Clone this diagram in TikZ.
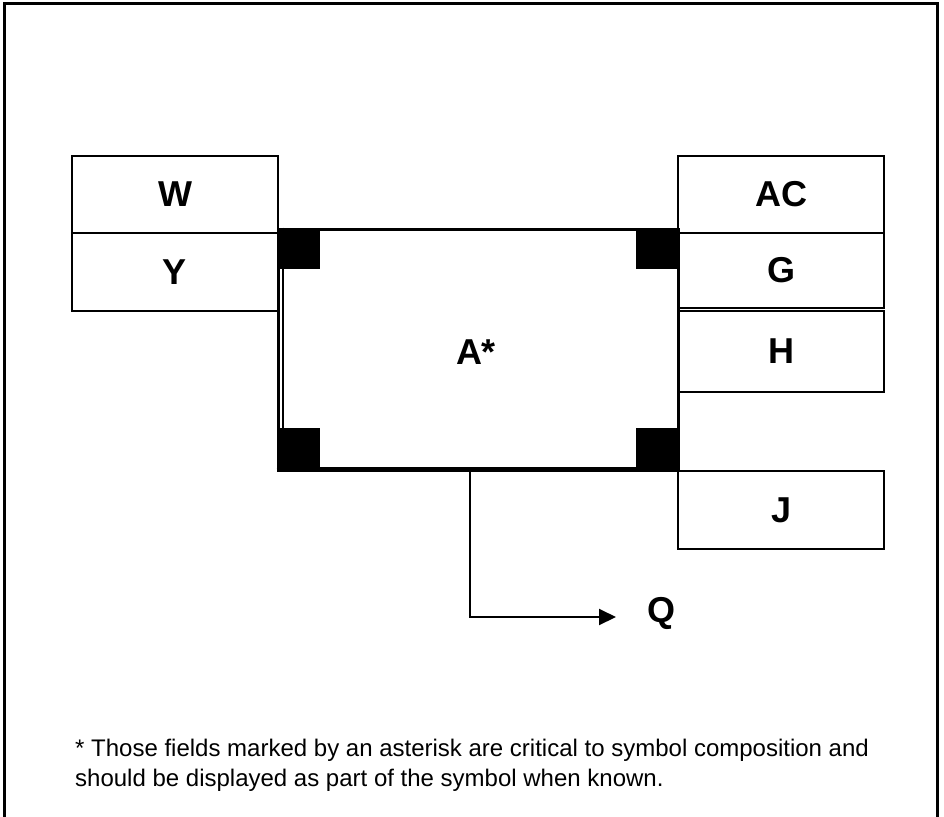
\documentclass[tikz,border=0pt]{standalone}
\usepackage{fontspec}
\setmainfont{Liberation Sans}
\usetikzlibrary{arrows.meta,calc}
\tikzset{
  lab/.style={font=\fontsize{36}{42}\selectfont\bfseries},
  fieldbox/.style={draw=black, line width=2pt, minimum width=206pt, inner sep=0pt, lab},
  mainbox/.style={draw=black, line width=3pt, minimum width=400pt, minimum height=239pt, inner sep=0pt},
  corner/.style={fill=black, draw=none, minimum width=43pt, minimum height=41pt, inner sep=0pt},
  conn/.style={draw=black, line width=2pt, -{Triangle[length=17pt,width=16pt]}},
  frame/.style={draw=black, line width=3pt},
}
\begin{document}
\begin{tikzpicture}[x=1pt,y=-1pt]
\useasboundingbox (0,0) rectangle (944,816);
\draw[frame] (4,820) -- (4,4) -- (937,4) -- (937,820);
% left fields
\node[fieldbox, minimum height=77pt] (W) at (175,194.5) {W};
\node[fieldbox, minimum height=78pt] (Y) at (175,272) {Y};
% right fields
\node[fieldbox, minimum height=77pt] (AC) at (781,194.5) {AC};
\node[fieldbox, minimum height=75pt] (G) at (781,270.5) {G};
\node[fieldbox, minimum height=81pt] (H) at (781,351.5) {H};
\node[fieldbox, minimum height=78pt] (J) at (781,510) {J};
% main box
\node[mainbox, fill=white] (A) at (478,348.5) {};
\node[lab] (Alab) at (476,352) {A*};
\draw[line width=2pt] ($(A.north west)+(6,0)$) -- ($(A.south west)+(6,0)$);
\draw[line width=4pt] (A.south west) -- (A.south east);
\node[corner, anchor=north west] (c1) at (A.north west) {};
\node[corner, anchor=north east] (c2) at (A.north east) {};
\node[corner, anchor=south west] (c3) at (A.south west) {};
\node[corner, anchor=south east] (c4) at (A.south east) {};
% connector to Q
\node[lab] (Q) at (661,613) {Q};
\coordinate (qtip) at (616,617);
\draw[conn] ($(A.south west)+(193,0)$) |- (qtip);
% footnote
\node[anchor=west, align=left, inner sep=0pt, font=\fontsize{24}{30}\selectfont] (note) at (75,765)
  {* Those fields marked by an asterisk are critical to symbol composition and\\
   should be displayed as part of the symbol when known.};
\end{tikzpicture}
\end{document}
